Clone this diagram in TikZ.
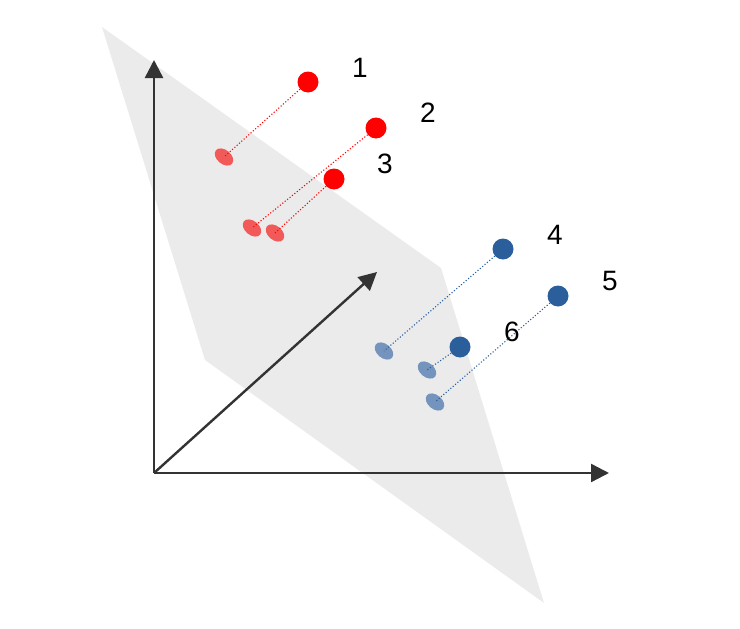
\documentclass[tikz,border=0pt]{standalone}
\usepackage{fontspec}
\setmainfont{Liberation Sans}
\usetikzlibrary{arrows.meta,shapes.geometric}
\definecolor{planegray}{HTML}{EBEBEB}
\definecolor{axisgray}{HTML}{333333}
\definecolor{ptred}{HTML}{FF0000}
\definecolor{elred}{HTML}{F25A5A}
\definecolor{ptblue}{HTML}{2B5F9B}
\definecolor{elblue}{HTML}{7494BD}
\tikzset{
  axis/.style={draw=axisgray, line width=2.4pt, -{Triangle[length=18pt,width=18pt]}},
  redpt/.style={circle, fill=ptred, inner sep=0pt, minimum size=21pt},
  bluept/.style={circle, fill=ptblue, inner sep=0pt, minimum size=21pt},
  redel/.style={ellipse, fill=elred, inner sep=0pt, minimum width=21pt, minimum height=14pt, rotate=-40},
  blueel/.style={ellipse, fill=elblue, inner sep=0pt, minimum width=21pt, minimum height=14pt, rotate=-40},
  reddot/.style={draw=ptred, line width=1.1pt, dotted},
  bluedot/.style={draw=ptblue, line width=1.1pt, dotted},
  lbl/.style={inner sep=0pt, font=\fontsize{28}{30}\selectfont}
}
\begin{document}
\begin{tikzpicture}[x=1pt,y=-1pt]
\useasboundingbox (0,0) rectangle (740,629);
% plane
\fill[planegray] (102,27) -- (441,268) -- (544,603) -- (205,360) -- cycle;
% axes
\coordinate (o) at (154,473);
\coordinate (ty) at (154,60);
\coordinate (tx) at (609,473);
\coordinate (tz) at (377,272);
\draw[axis] (o) -- (ty);
\draw[axis] (o) -- (tx);
\draw[axis] (o) -- (tz);
% ellipses
\node[redel] (e1) at (224,157) {};
\node[redel] (e2) at (252,228) {};
\node[redel] (e3) at (275,233) {};
\node[blueel] (e4) at (384,351) {};
\node[blueel] (e6) at (427,370) {};
\node[blueel] (e5) at (435,402) {};
% points
\node[redpt] (p1) at (308,82) {};
\node[redpt] (p2) at (376,128) {};
\node[redpt] (p3) at (334,179) {};
\node[bluept] (p4) at (503,249) {};
\node[bluept] (p5) at (558,296) {};
\node[bluept] (p6) at (460,347) {};
% projection lines
\draw[reddot] (p1) -- (e1.center);
\draw[reddot] (p2) -- (e2.center);
\draw[reddot] (p3) -- (e3.center);
\draw[bluedot] (p4) -- (e4.center);
\draw[bluedot] (p5) -- (e5.center);
\draw[bluedot] (p6) -- (e6.center);
% labels
\node[lbl] (l1) at (360,68) {1};
\node[lbl] (l2) at (428,113) {2};
\node[lbl] (l3) at (385,164) {3};
\node[lbl] (l4) at (555,235) {4};
\node[lbl] (l5) at (610,281) {5};
\node[lbl] (l6) at (512,332) {6};
\end{tikzpicture}
\end{document}
